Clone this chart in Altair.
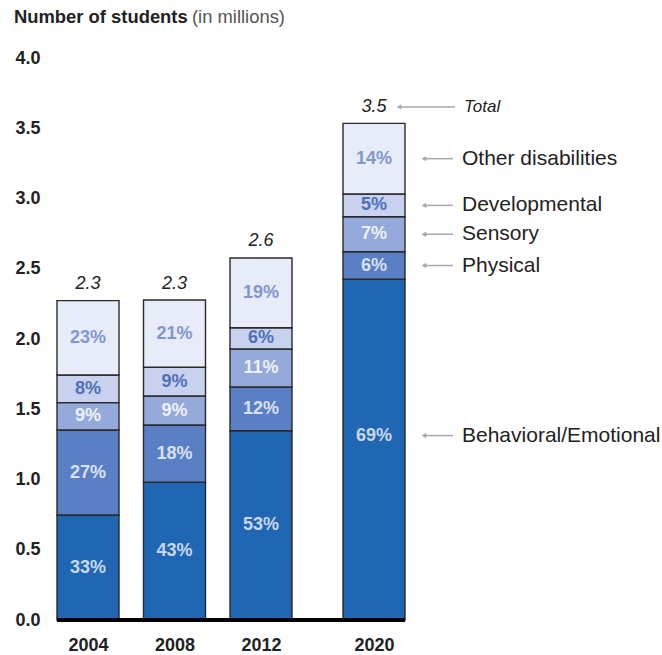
import altair as alt
import pandas as pd

# ---------------- data ----------------
years = [2004, 2008, 2012, 2020]
categories = ["Behavioral/Emotional", "Physical", "Sensory", "Developmental", "Other disabilities"]
behavioral = [0.747, 0.980, 1.347, 2.425]
physical = [0.605, 0.408, 0.311, 0.196]
sensory = [0.195, 0.206, 0.271, 0.249]
developmental = [0.197, 0.205, 0.151, 0.162]
other = [0.529, 0.479, 0.497, 0.503]
pct_behavioral = ["33%", "43%", "53%", "69%"]
pct_physical = ["27%", "18%", "12%", "6%"]
pct_sensory = ["9%", "9%", "11%", "7%"]
pct_developmental = ["8%", "9%", "6%", "5%"]
pct_other = ["23%", "21%", "19%", "14%"]
total_labels = ["2.3", "2.3", "2.6", "3.5"]
y_ticks = [0.0, 0.5, 1.0, 1.5, 2.0, 2.5, 3.0, 3.5, 4.0]

# ---------------- styles ----------------
FONT = "Liberation Sans"
fill_colors = ["#1f67b3", "#5a7fc5", "#95aadb", "#c8d1ee", "#e8ebf8"]
text_colors = {
    "Behavioral/Emotional": "#c9d7f1",
    "Physical": "#d9e1f5",
    "Sensory": "#eef1fa",
    "Developmental": "#4f70b8",
    "Other disabilities": "#8297cf",
}

series = [behavioral, physical, sensory, developmental, other]
pcts = [pct_behavioral, pct_physical, pct_sensory, pct_developmental, pct_other]
rows = []
for ci, cat in enumerate(categories):
    for yi, yr in enumerate(years):
        rows.append({"year": yr, "cat": cat, "order": ci, "value": series[ci][yi],
                     "pct": pcts[ci][yi], "tcol": text_colors[cat]})
df = pd.DataFrame(rows)

tot_rows = []
for yi, yr in enumerate(years):
    tot_rows.append({"year": yr, "total": sum(s[yi] for s in series), "label": total_labels[yi]})
df_tot = pd.DataFrame(tot_rows)

xscale = alt.Scale(domain=[2004, 2012, 2020], range=[31, 204, 317], nice=False, zero=False, padding=0)
yscale = alt.Scale(domain=[0, 4], nice=False, zero=True)

xaxis = alt.Axis(values=years, format="d", labelFontWeight="bold", labelFontSize=18,
                 labelFont=FONT, labelColor="#222222", ticks=False, domain=False,
                 grid=False, labelPadding=16, labelFlush=False, labelOverlap=False, title=None)
yaxis = alt.Axis(values=y_ticks, format=".1f", labelFontWeight="bold", labelFontSize=18,
                 labelFont=FONT, labelColor="#222222", ticks=False, domain=False,
                 grid=False, labelPadding=17, labelFlush=False, labelOverlap=False, title=None)

base = alt.Chart(df).transform_stack(
    stack="value", groupby=["year"], as_=["y0", "y1"], sort=[alt.SortField("order")]
).transform_calculate(
    mid="(datum.y0 + datum.y1) / 2 + ((datum.year == 2020 && datum.order == 0) ? 0.1 : 0)"
)

bars = base.mark_bar(size=62, stroke="#2a2a2a", strokeWidth=1.4).encode(
    x=alt.X("year:Q", scale=xscale, axis=xaxis),
    y=alt.Y("y0:Q", scale=yscale, axis=yaxis),
    y2="y1:Q",
    color=alt.Color("cat:N", scale=alt.Scale(domain=categories, range=fill_colors), legend=None),
)

pct_text = base.mark_text(font=FONT, fontSize=18, fontWeight="bold", baseline="middle").encode(
    x=alt.X("year:Q", scale=xscale),
    y=alt.Y("mid:Q", scale=yscale),
    text="pct:N",
    color=alt.Color("tcol:N", scale=None),
)

baseline_rule = alt.Chart(df_tot.head(1)).mark_rule(color="#000000", strokeWidth=4).encode(
    x=alt.value(0), x2=alt.value(348), y=alt.datum(0, scale=yscale)
)

tot_base = alt.Chart(df_tot).transform_calculate(ly="datum.total + 0.117")
tot_text = tot_base.mark_text(font=FONT, fontSize=18, fontStyle="italic", color="#222222",
                              baseline="middle").encode(
    x=alt.X("year:Q", scale=xscale),
    y=alt.Y("ly:Q", scale=yscale),
    text="label:N",
)

# annotations on the right (2020 segments)
ann_base = base.transform_filter("datum.year == 2020")
ann_text = ann_base.mark_text(font=FONT, fontSize=21, color="#222222", align="left",
                              baseline="middle").encode(
    x=alt.value(405), y=alt.Y("mid:Q", scale=yscale), text="cat:N")
ann_line = ann_base.mark_rule(color="#a8a8a8", strokeWidth=1.5).encode(
    x=alt.value(366), x2=alt.value(396), y=alt.Y("mid:Q", scale=yscale))
ann_head = ann_base.mark_point(shape="triangle-left", filled=True, color="#a8a8a8",
                               size=28, opacity=1).encode(
    x=alt.value(367), y=alt.Y("mid:Q", scale=yscale))

tot_ann_base = tot_base.transform_filter("datum.year == 2020")
tot_ann_text = tot_ann_base.mark_text(font=FONT, fontSize=17, fontStyle="italic", color="#222222",
                                      align="left", baseline="middle").encode(
    x=alt.value(407), y=alt.Y("ly:Q", scale=yscale), text=alt.value("Total"))
tot_ann_line = tot_ann_base.mark_rule(color="#a8a8a8", strokeWidth=1.5).encode(
    x=alt.value(341), x2=alt.value(398), y=alt.Y("ly:Q", scale=yscale))
tot_ann_head = tot_ann_base.mark_point(shape="triangle-left", filled=True, color="#a8a8a8",
                                       size=28, opacity=1).encode(
    x=alt.value(342), y=alt.Y("ly:Q", scale=yscale))

title_df = pd.DataFrame([{"a": 1}])
title1 = alt.Chart(title_df).mark_text(font=FONT, fontSize=18.4, fontWeight="bold", color="#222222",
                                       align="left", baseline="alphabetic").encode(
    x=alt.value(-43), y=alt.value(-35.3), text=alt.value("Number of students"))
title2 = alt.Chart(title_df).mark_text(font=FONT, fontSize=18.4, color="#555555",
                                       align="left", baseline="alphabetic").encode(
    x=alt.value(135), y=alt.value(-35.3), text=alt.value("(in millions)"))

chart = alt.layer(
    bars, pct_text, baseline_rule, tot_text,
    ann_line, ann_head, ann_text,
    tot_ann_line, tot_ann_head, tot_ann_text,
    title1, title2,
).properties(
    width=348, height=562,
    autosize=alt.AutoSizeParams(type="none"),
    padding={"left": 57, "top": 58, "right": 257, "bottom": 35},
).configure_view(stroke=None)

chart.save("out.html", embed_options={"renderer": "svg", "actions": False})
